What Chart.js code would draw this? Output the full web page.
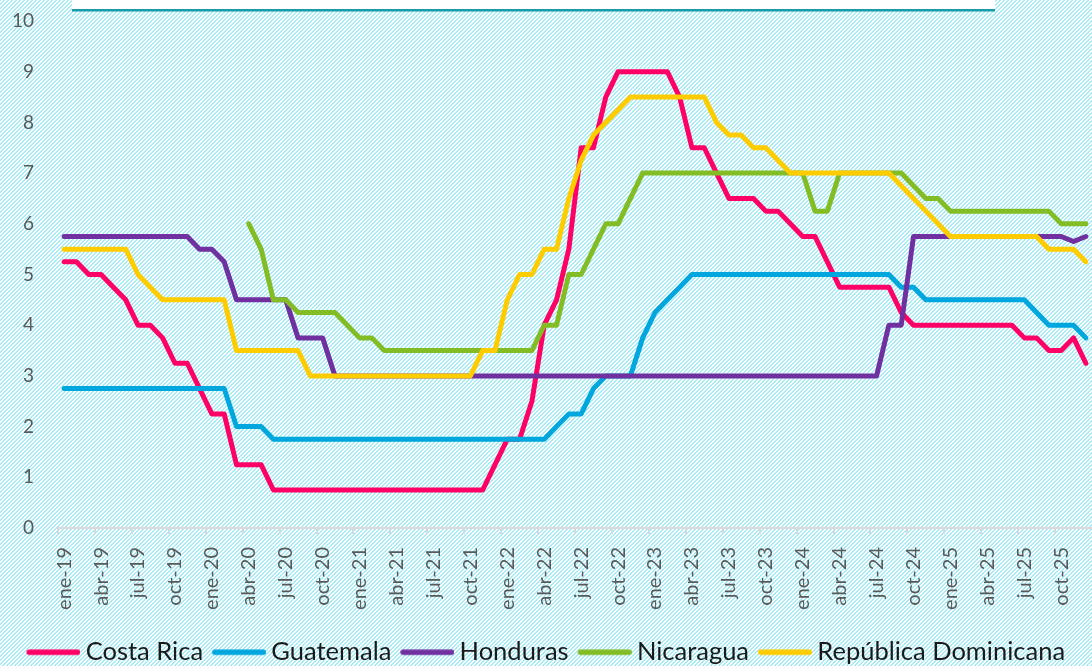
<!DOCTYPE html>
<html>
<head>
<meta charset="utf-8">
<script src="https://cdn.jsdelivr.net/npm/chart.js@4.4.1/dist/chart.umd.min.js"></script>
<style>
  html, body { margin: 0; padding: 0; overflow: hidden; background: #ffffff; }
  #wrap { position: relative; width: 1092px; height: 675px; }
</style>
</head>
<body>
<div id="wrap"><canvas id="c"></canvas></div>
<script>
// ---- Data (monthly, ene-19 .. dic-25) ----
const months = [
  'ene-19','feb-19','mar-19','abr-19','may-19','jun-19','jul-19','ago-19','sep-19','oct-19','nov-19','dic-19',
  'ene-20','feb-20','mar-20','abr-20','may-20','jun-20','jul-20','ago-20','sep-20','oct-20','nov-20','dic-20',
  'ene-21','feb-21','mar-21','abr-21','may-21','jun-21','jul-21','ago-21','sep-21','oct-21','nov-21','dic-21',
  'ene-22','feb-22','mar-22','abr-22','may-22','jun-22','jul-22','ago-22','sep-22','oct-22','nov-22','dic-22',
  'ene-23','feb-23','mar-23','abr-23','may-23','jun-23','jul-23','ago-23','sep-23','oct-23','nov-23','dic-23',
  'ene-24','feb-24','mar-24','abr-24','may-24','jun-24','jul-24','ago-24','sep-24','oct-24','nov-24','dic-24',
  'ene-25','feb-25','mar-25','abr-25','may-25','jun-25','jul-25','ago-25','sep-25','oct-25','nov-25','dic-25'
];

const costaRica = [
  5.25,5.25,5.00,5.00,4.75,4.50,4.00,4.00,3.75,3.25,3.25,2.75,
  2.25,2.25,1.25,1.25,1.25,0.75,0.75,0.75,0.75,0.75,0.75,0.75,
  0.75,0.75,0.75,0.75,0.75,0.75,0.75,0.75,0.75,0.75,0.75,1.25,
  1.75,1.75,2.50,4.00,4.50,5.50,7.50,7.50,8.50,9.00,9.00,9.00,
  9.00,9.00,8.50,7.50,7.50,7.00,6.50,6.50,6.50,6.25,6.25,6.00,
  5.75,5.75,5.25,4.75,4.75,4.75,4.75,4.75,4.25,4.00,4.00,4.00,
  4.00,4.00,4.00,4.00,4.00,4.00,3.75,3.75,3.50,3.50,3.75,3.25
];

const guatemala = [
  2.75,2.75,2.75,2.75,2.75,2.75,2.75,2.75,2.75,2.75,2.75,2.75,
  2.75,2.75,2.00,2.00,2.00,1.75,1.75,1.75,1.75,1.75,1.75,1.75,
  1.75,1.75,1.75,1.75,1.75,1.75,1.75,1.75,1.75,1.75,1.75,1.75,
  1.75,1.75,1.75,1.75,2.00,2.25,2.25,2.75,3.00,3.00,3.00,3.75,
  4.25,4.50,4.75,5.00,5.00,5.00,5.00,5.00,5.00,5.00,5.00,5.00,
  5.00,5.00,5.00,5.00,5.00,5.00,5.00,5.00,4.75,4.75,4.50,4.50,
  4.50,4.50,4.50,4.50,4.50,4.50,4.50,4.25,4.00,4.00,4.00,3.75
];

const honduras = [
  5.75,5.75,5.75,5.75,5.75,5.75,5.75,5.75,5.75,5.75,5.75,5.50,
  5.50,5.25,4.50,4.50,4.50,4.50,4.50,3.75,3.75,3.75,3.00,3.00,
  3.00,3.00,3.00,3.00,3.00,3.00,3.00,3.00,3.00,3.00,3.00,3.00,
  3.00,3.00,3.00,3.00,3.00,3.00,3.00,3.00,3.00,3.00,3.00,3.00,
  3.00,3.00,3.00,3.00,3.00,3.00,3.00,3.00,3.00,3.00,3.00,3.00,
  3.00,3.00,3.00,3.00,3.00,3.00,3.00,4.00,4.00,5.75,5.75,5.75,
  5.75,5.75,5.75,5.75,5.75,5.75,5.75,5.75,5.75,5.75,5.65,5.75
];

const nicaragua = [
  null,null,null,null,null,null,null,null,null,null,null,null,
  null,null,null,6.00,5.50,4.50,4.50,4.25,4.25,4.25,4.25,4.00,
  3.75,3.75,3.50,3.50,3.50,3.50,3.50,3.50,3.50,3.50,3.50,3.50,
  3.50,3.50,3.50,4.00,4.00,5.00,5.00,5.50,6.00,6.00,6.50,7.00,
  7.00,7.00,7.00,7.00,7.00,7.00,7.00,7.00,7.00,7.00,7.00,7.00,
  7.00,6.25,6.25,7.00,7.00,7.00,7.00,7.00,7.00,6.75,6.50,6.50,
  6.25,6.25,6.25,6.25,6.25,6.25,6.25,6.25,6.25,6.00,6.00,6.00
];

const repDominicana = [
  5.50,5.50,5.50,5.50,5.50,5.50,5.00,4.75,4.50,4.50,4.50,4.50,
  4.50,4.50,3.50,3.50,3.50,3.50,3.50,3.50,3.00,3.00,3.00,3.00,
  3.00,3.00,3.00,3.00,3.00,3.00,3.00,3.00,3.00,3.00,3.50,3.50,
  4.50,5.00,5.00,5.50,5.50,6.50,7.25,7.75,8.00,8.25,8.50,8.50,
  8.50,8.50,8.50,8.50,8.50,8.00,7.75,7.75,7.50,7.50,7.25,7.00,
  7.00,7.00,7.00,7.00,7.00,7.00,7.00,7.00,6.75,6.50,6.25,6.00,
  5.75,5.75,5.75,5.75,5.75,5.75,5.75,5.75,5.50,5.50,5.50,5.25
];

const seriesNames = ['Costa Rica','Guatemala','Honduras','Nicaragua','República Dominicana'];
const seriesColors = ['#FF0066','#00A6DE','#7030A0','#84BC26','#FFCC00'];
const yTicks = [0,1,2,3,4,5,6,7,8,9,10];

// ---- Background pattern + top decoration ----
function makePattern(ctx) {
  const t = document.createElement('canvas');
  t.width = 4; t.height = 4;
  const g = t.getContext('2d');
  g.fillStyle = '#ffffff';
  g.fillRect(0, 0, 4, 4);
  g.fillStyle = '#a9ecf5';
  for (let y = 0; y < 4; y++) {
    g.fillRect((3 - y + 4) % 4, y, 1, 1);
    g.fillRect((4 - y + 4) % 4, y, 1, 1);
  }
  return ctx.createPattern(t, 'repeat');
}

const backgroundPlugin = {
  id: 'bgPattern',
  beforeDraw(chart) {
    const ctx = chart.ctx;
    ctx.save();
    ctx.fillStyle = makePattern(ctx);
    ctx.fillRect(0, 0, chart.width, chart.height);
    ctx.fillStyle = '#ffffff';
    ctx.fillRect(72, 0, 923, 9);
    ctx.fillStyle = '#1a9bab';
    ctx.fillRect(72, 9, 923, 2.5);
    ctx.restore();
  }
};

// legend sample images: line in the right part, transparent on the left
const LEG_BOX = 46, LEG_IMG_W = 61, LEG_LINE = 54, LEG_LW = 5.5;
function legendSample(color) {
  const c = document.createElement('canvas');
  c.width = LEG_IMG_W; c.height = 8;
  const g = c.getContext('2d');
  g.strokeStyle = color;
  g.lineWidth = LEG_LW;
  g.lineCap = 'round';
  g.beginPath();
  g.moveTo(LEG_IMG_W - LEG_LINE + LEG_LW / 2, 4);
  g.lineTo(LEG_IMG_W - LEG_LW / 2, 4);
  g.stroke();
  return c;
}
const legendImgs = seriesColors.map(legendSample);

const datasetsSrc = [costaRica, guatemala, honduras, nicaragua, repDominicana];
const datasets = datasetsSrc.map((vals, i) => ({
  label: seriesNames[i],
  data: vals,
  borderColor: seriesColors[i],
  backgroundColor: seriesColors[i],
  borderWidth: 5,
  borderJoinStyle: 'round',
  borderCapStyle: 'round',
  pointRadius: 0,
  pointHoverRadius: 0,
  tension: 0,
  fill: false,
  spanGaps: false,
  order: 5 - i
}));

const FONT = 'Lato, "Open Sans", sans-serif';

new Chart(document.getElementById('c'), {
  type: 'line',
  data: { labels: months, datasets },
  plugins: [backgroundPlugin],
  options: {
    responsive: true,
    maintainAspectRatio: false,
    animation: false,
    events: [],
    layout: { padding: { top: 21, left: 0, right: 0, bottom: 0 } },
    plugins: {
      tooltip: { enabled: false },
      title: { display: false },
      legend: {
        display: true,
        position: 'bottom',
        labels: {
          usePointStyle: true,
          pointStyleWidth: LEG_BOX,
          boxHeight: 8,
          padding: 9.5,
          color: '#1a1a1a',
          font: { family: FONT, size: 25.5, lineHeight: 1 },
          sort: (a, b) => a.datasetIndex - b.datasetIndex,
          generateLabels: (chart) =>
            Chart.defaults.plugins.legend.labels.generateLabels(chart).map(l => ({
              ...l, pointStyle: legendImgs[l.datasetIndex]
            }))
        }
      }
    },
    scales: {
      x: {
        type: 'category',
        offset: true,
        grid: {
          display: true,
          offset: true,
          drawOnChartArea: false,
          drawTicks: true,
          tickLength: 6,
          lineWidth: 2,
          color: (c) => (c.index % 3 === 0 ? '#d9d9d9' : 'rgba(0,0,0,0)')
        },
        border: { display: true, color: '#d9d9d9', width: 2 },
        ticks: {
          autoSkip: false,
          maxRotation: 90,
          minRotation: 90,
          padding: 13,
          color: '#595959',
          font: { family: FONT, size: 20 },
          callback: (v, i) => (i % 3 === 0 ? months[i] : '')
        },
        afterFit: (s) => { s.height = 102; s.paddingLeft = 0; s.paddingRight = 0; }
      },
      y: {
        min: 0,
        max: 10,
        afterBuildTicks: (s) => { s.ticks = yTicks.map(v => ({ value: v })); },
        grid: { display: false, drawTicks: false },
        border: { display: false },
        ticks: {
          padding: 24,
          color: '#595959',
          font: { family: FONT, size: 19 }
        },
        afterFit: (s) => { s.width = 58; s.paddingTop = 0; s.paddingBottom = 0; }
      }
    }
  }
});
</script>
</body>
</html>
